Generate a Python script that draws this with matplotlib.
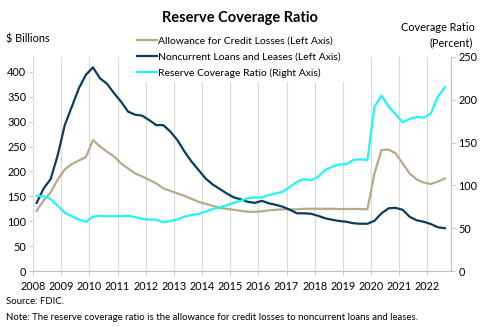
import numpy as np
import matplotlib
matplotlib.use('Agg')
import matplotlib.pyplot as plt

plt.rcParams['font.family'] = ['Lato', 'DejaVu Sans']
plt.rcParams['font.size'] = 7.5

# ── 데이터 (quarterly, 2008Q1 - 2022Q3) ─────────────────────────
years = list(range(2008, 2023))
quarters = [f'{y}Q{q}' for y in years for q in range(1, 5)][:59]

allowance = [121, 142, 158, 184,
             204, 215, 222, 229,
             263, 250, 240, 230,
             216, 206, 196, 190,
             183, 176, 166, 161,
             156, 151, 145, 139,
             135, 131, 127, 125,
             123, 121, 119, 119,
             120, 122, 123, 124,
             124, 124, 125, 125,
             125, 125, 125, 124.6,
             124.6, 124.6, 124.6, 124,
             196, 243, 244, 236.5,
             216, 196, 184, 177.6,
             175, 179.5, 186]

noncurrent = [137, 166, 185, 233,
              293, 330, 367, 394,
              409, 387, 376, 357,
              340, 320, 314, 312,
              303, 293, 293, 280,
              263, 240, 220, 203,
              186, 174, 165, 156,
              148, 144, 139, 137,
              141, 136, 133, 129,
              123, 116, 116, 115,
              111, 106, 103, 100.5,
              99, 96, 95, 95,
              101, 116, 126, 127,
              123, 109, 102, 99,
              94.5, 88, 86]

coverage = [88, 87, 84, 76,
            68, 64, 60, 57.5,
            63.5, 64.6, 64, 64,
            64, 64.6, 63, 61,
            60, 60, 57, 58.4,
            60.4, 63.5, 65.4, 66.6,
            69.3, 72.4, 74.4, 76.7,
            79.8, 82, 85, 86,
            86, 88.8, 90.7, 92.7,
            98.5, 104.4, 107.5, 105.9,
            110.2, 118, 122, 124.6,
            124.6, 129.7, 130.4, 129.7,
            192, 204.8, 192, 183,
            173.7, 177.6, 180, 179,
            184, 203.6, 214.6]

x = np.array([int(q[:4]) + (int(q[-1]) - 0.5) / 4 for q in quarters])

TAN = '#b8a98a'
NAVY = '#0d3b5e'
CYAN = '#1ff4ff'
GRID = '#d9d9d9'

fig = plt.figure(figsize=(4.8, 3.27), dpi=100)
ax = fig.add_axes([0.069, 0.171, 0.871, 0.655])
ax2 = ax.twinx()

l1, = ax.plot(x, allowance, color=TAN, lw=1.6, label='Allowance for Credit Losses (Left Axis)')
l2, = ax.plot(x, noncurrent, color=NAVY, lw=1.6, label='Noncurrent Loans and Leases (Left Axis)')
l3, = ax2.plot(x, coverage, color=CYAN, lw=1.6, label='Reserve Coverage Ratio (Right Axis)')

ax.set_xlim(2008, 2022.85)
ax.set_ylim(0, 430)
ax2.set_ylim(0, 250)
ax.set_xticks(years)
ax.set_yticks(range(0, 401, 50))
ax2.set_yticks(range(0, 251, 50))

ax.grid(axis='x', color=GRID, lw=0.8)
for a in (ax, ax2):
    for s in a.spines.values():
        s.set_visible(False)
    a.tick_params(length=3, width=0.6, color='#bfbfbf', labelsize=7.8, pad=2)
ax.spines['left'].set_visible(True)
ax.spines['left'].set_color(GRID)
ax.spines['bottom'].set_visible(True)
ax.spines['bottom'].set_color('#bfbfbf')
ax2.spines['right'].set_visible(True)
ax2.spines['right'].set_color('#bfbfbf')
ax.tick_params(axis='x', pad=4)

leg = fig.legend(handles=[l1, l2, l3], loc='upper left', bbox_to_anchor=(0.268, 0.915),
                 frameon=True, fancybox=False, edgecolor='white', framealpha=1,
                 fontsize=7.5, handlelength=1.9, handletextpad=0.1,
                 labelspacing=0.65, borderpad=0.3)

fig.text(0.5, 0.945, 'Reserve Coverage Ratio', ha='center', va='center',
         fontsize=10.5, fontweight='bold')
fig.text(0.012, 0.88, '$ Billions', ha='left', va='center', fontsize=7.8)
fig.text(0.99, 0.915, 'Coverage Ratio', ha='right', va='center', fontsize=7.8)
fig.text(0.985, 0.868, '(Percent)', ha='right', va='center', fontsize=7.8)
fig.text(0.012, 0.077, 'Source: FDIC.', ha='left', va='center', fontsize=6.9)
fig.text(0.012, 0.028, 'Note: The reserve coverage ratio is the allowance for credit losses to noncurrent loans and leases.',
         ha='left', va='center', fontsize=6.9)

fig.savefig('out.png', dpi=100, facecolor='white')
